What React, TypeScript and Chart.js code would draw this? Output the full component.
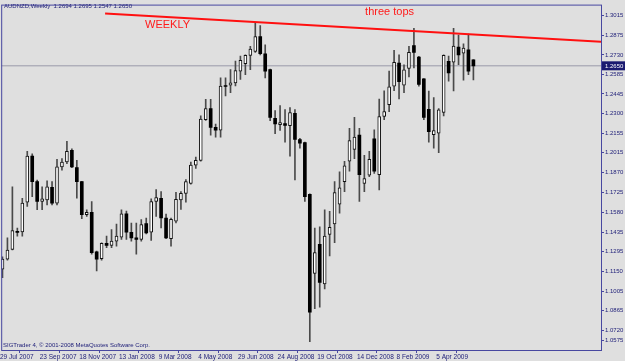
import React, { useEffect, useRef } from 'react';
import { Chart, registerables } from 'chart.js';

Chart.register(...registerables);

const symbolTitle = 'AUDNZD,Weekly';
const copyright = 'SIGTrader 4, \u00a9 2001-2008 MetaQuotes Software Corp.';
const noteLeft = 'WEEKLY';
const noteRight = 'three tops';

const opens = [
  1.1166, 1.1238, 1.1310, 1.1442, 1.1437, 1.1654, 1.1991, 1.1804, 1.1659, 1.1671,
  1.1762, 1.1647, 1.1912, 1.1948, 1.2033, 1.1907, 1.1804, 1.1563, 1.1580, 1.1291,
  1.1242, 1.1354, 1.1339, 1.1370, 1.1399, 1.1570, 1.1435, 1.1394, 1.1382, 1.1498,
  1.1435, 1.1659, 1.1683, 1.1539, 1.1387, 1.1515, 1.1671, 1.1719, 1.1791, 1.1924,
  1.1960, 1.2257, 1.2338, 1.2201, 1.2181, 1.2502, 1.2509, 1.2526, 1.2611, 1.2665,
  1.2726, 1.2755, 1.2863, 1.2738, 1.2622, 1.2266, 1.2220, 1.2228, 1.2213, 1.2304,
  1.2112, 1.2089, 1.1712, 1.1134, 1.1346, 1.1057, 1.1419, 1.1495, 1.1640, 1.1804,
  1.1953, 1.2040, 1.2145, 1.1791, 1.1852, 1.2116, 1.1856, 1.2280, 1.2367, 1.2502,
  1.2670, 1.2508, 1.2631, 1.2798, 1.2714, 1.2555, 1.2333, 1.2148, 1.2158, 1.2309,
  1.2683, 1.2676, 1.2786, 1.2743, 1.2767, 1.2694,
];
const highs = [
  1.1255, 1.1394, 1.1767, 1.1466, 1.1683, 1.2025, 1.2008, 1.1816, 1.1767, 1.1811,
  1.1804, 1.1968, 1.1972, 1.2098, 1.2044, 1.1960, 1.1806, 1.1599, 1.1659, 1.1298,
  1.1358, 1.1406, 1.1455, 1.1495, 1.1599, 1.1590, 1.1502, 1.1502, 1.1527, 1.1539,
  1.1679, 1.1746, 1.1731, 1.1567, 1.1539, 1.1726, 1.1731, 1.1820, 1.1948, 1.1984,
  1.2285, 1.2405, 1.2405, 1.2225, 1.2562, 1.2562, 1.2622, 1.2685, 1.2721, 1.2730,
  1.2793, 1.2967, 1.2943, 1.2803, 1.2626, 1.2324, 1.2360, 1.2331, 1.2345, 1.2331,
  1.2121, 1.2093, 1.1715, 1.1466, 1.1474, 1.1599, 1.1587, 1.1804, 1.1876, 1.1953,
  1.2194, 1.2273, 1.2194, 1.1996, 1.2025, 1.2183, 1.2407, 1.2468, 1.2611, 1.2764,
  1.2730, 1.2658, 1.2793, 1.2923, 1.2719, 1.2557, 1.2466, 1.2418, 1.2338, 1.2730,
  1.2721, 1.2923, 1.2875, 1.2810, 1.2882, 1.2695,
];
const lows = [
  1.1103, 1.1231, 1.1305, 1.1406, 1.1406, 1.1623, 1.1695, 1.1599, 1.1599, 1.1635,
  1.1635, 1.1635, 1.1888, 1.1936, 1.1907, 1.1683, 1.1534, 1.1551, 1.1274, 1.1153,
  1.1231, 1.1322, 1.1322, 1.1334, 1.1382, 1.1382, 1.1370, 1.1274, 1.1370, 1.1423,
  1.1375, 1.1551, 1.1466, 1.1387, 1.1334, 1.1502, 1.1601, 1.1654, 1.1785, 1.1900,
  1.1953, 1.2252, 1.2143, 1.2129, 1.2129, 1.2430, 1.2454, 1.2504, 1.2550, 1.2586,
  1.2622, 1.2748, 1.2730, 1.2562, 1.2249, 1.2154, 1.2179, 1.2093, 1.1991, 1.1816,
  1.2049, 1.1659, 1.0635, 1.0877, 1.0888, 1.1021, 1.1262, 1.1358, 1.1575, 1.1731,
  1.1881, 1.1972, 1.1659, 1.1731, 1.1840, 1.1864, 1.1744, 1.2257, 1.2316, 1.2468,
  1.2408, 1.2454, 1.2569, 1.2634, 1.2502, 1.2257, 1.2093, 1.2049, 1.2015, 1.2285,
  1.2538, 1.2466, 1.2658, 1.2546, 1.2586, 1.2547,
];
const closes = [
  1.1238, 1.1305, 1.1447, 1.1433, 1.1647, 1.1991, 1.1804, 1.1659, 1.1679, 1.1767,
  1.1647, 1.1912, 1.1948, 1.2025, 1.1912, 1.1804, 1.1563, 1.1580, 1.1286, 1.1238,
  1.1354, 1.1339, 1.1370, 1.1406, 1.1570, 1.1435, 1.1394, 1.1382, 1.1491, 1.1430,
  1.1659, 1.1688, 1.1539, 1.1394, 1.1529, 1.1676, 1.1719, 1.1804, 1.1926, 1.1960,
  1.2261, 1.2338, 1.2201, 1.2181, 1.2502, 1.2499, 1.2526, 1.2615, 1.2690, 1.2726,
  1.2772, 1.2863, 1.2738, 1.2611, 1.2273, 1.2225, 1.2235, 1.2215, 1.2309, 1.2112,
  1.2085, 1.1695, 1.0852, 1.1286, 1.1069, 1.1406, 1.1471, 1.1724, 1.1760, 1.1919,
  1.2105, 1.2129, 1.1856, 1.1827, 1.1968, 1.1881, 1.2280, 1.2316, 1.2497, 1.2676,
  1.2535, 1.2620, 1.2748, 1.2748, 1.2514, 1.2273, 1.2170, 1.2177, 1.2329, 1.2726,
  1.2598, 1.2795, 1.2730, 1.2779, 1.2611, 1.2650,
];

const xTickLabels = [
  '29 Jul 2007', '23 Sep 2007', '18 Nov 2007', '13 Jan 2008', '9 Mar 2008', '4 May 2008',
  '29 Jun 2008', '24 Aug 2008', '19 Oct 2008', '14 Dec 2008', '8 Feb 2009', '5 Apr 2009',
];
const yTickValues = [
  1.3015, 1.2875, 1.2730, 1.2585, 1.2445, 1.2300, 1.2155, 1.2015, 1.1870,
  1.1725, 1.1580, 1.1435, 1.1295, 1.1150, 1.1005, 1.0865, 1.0720, 1.0575,
];
const trendX = [20.7, 120.74];
const trendY = [1.3032, 1.2826];

const NAVY = '#22227a';
const FRAME = '#4848a0';
const BG = '#dfdfdf';
const FONT = "'Liberation Sans', Arial, sans-serif";

export default function App() {
  const ref = useRef<HTMLCanvasElement>(null);

  useEffect(() => {
    if (!ref.current) return;
    const n = opens.length;
    const last = n - 1;
    const idx = opens.map((_, i) => i);
    const wicks = idx.map((i) => ({ x: i, y: [lows[i], highs[i]] }));
    const up = idx
      .filter((i) => closes[i] >= opens[i])
      .map((i) => ({ x: i, y: [opens[i], closes[i]] }));
    const down = idx
      .filter((i) => closes[i] < opens[i])
      .map((i) => ({ x: i, y: [closes[i], opens[i]] }));
    const xMin = -0.26;
    const xMax = 120.74;
    const yMin = 1.0575;
    const yMax = 1.3097;
    const lastClose = closes[last];

    const overlay = {
      id: 'mt4overlay',
      afterDraw(chart: any) {
        const { ctx, chartArea: a, scales } = chart;
        ctx.save();
        ctx.strokeStyle = FRAME;
        ctx.lineWidth = 1;
        ctx.strokeRect(a.left + 0.5, a.top + 0.5, a.right - a.left, a.bottom - a.top);

        ctx.textBaseline = 'middle';
        ctx.textAlign = 'left';
        ctx.fillStyle = NAVY;
        ctx.font = `6px ${FONT}`;
        const head = `${symbolTitle}  ${opens[last].toFixed(4)} ${highs[last].toFixed(4)} ${lows[last].toFixed(4)} ${closes[last].toFixed(4)}`;
        ctx.fillText(head, 4, 6.5);
        ctx.fillText(copyright, 3, 345);

        ctx.fillStyle = '#ff1a1a';
        ctx.font = `11px ${FONT}`;
        ctx.fillText(noteLeft, 145, 24.5);
        ctx.textAlign = 'right';
        ctx.fillText(noteRight, 414, 11.5);

        const py = scales.y.getPixelForValue(lastClose);
        ctx.fillStyle = '#1a1a70';
        ctx.fillRect(a.right + 1, py - 4.5, 23, 9);
        ctx.fillStyle = '#ffffff';
        ctx.textAlign = 'left';
        ctx.font = `6px ${FONT}`;
        ctx.fillText(lastClose.toFixed(4), a.right + 4, py + 0.5);
        ctx.restore();
      },
    };

    const chart = new Chart(ref.current, {
      type: 'bar',
      data: {
        datasets: [
          {
            type: 'line',
            data: [
              { x: xMin, y: lastClose },
              { x: xMax, y: lastClose },
            ],
            borderColor: '#9a9aaa',
            borderWidth: 1,
            pointRadius: 0,
            order: 9,
          } as any,
          {
            data: wicks as any,
            backgroundColor: '#4a4a4a',
            borderWidth: 0,
            barThickness: 1,
            grouped: false,
            minBarLength: 1,
            order: 6,
          },
          {
            data: up as any,
            backgroundColor: '#ffffff',
            borderColor: '#111111',
            borderWidth: 1,
            borderSkipped: false,
            barThickness: 3,
            grouped: false,
            minBarLength: 2,
            order: 4,
          },
          {
            data: down as any,
            backgroundColor: '#000000',
            borderColor: '#000000',
            borderWidth: 0,
            borderSkipped: false,
            barThickness: 3,
            grouped: false,
            minBarLength: 1,
            order: 3,
          },
          {
            type: 'line',
            data: trendX.map((x, i) => ({ x, y: trendY[i] })),
            borderColor: '#ff1010',
            borderWidth: 2,
            pointRadius: 0,
            order: 1,
          } as any,
        ],
      },
      options: {
        responsive: false,
        devicePixelRatio: 1,
        animation: false,
        events: [],
        layout: { padding: { left: 1, top: 1, right: 0, bottom: 0 } },
        plugins: { legend: { display: false }, tooltip: { enabled: false }, title: { display: false } },
        scales: {
          x: {
            type: 'linear',
            min: xMin,
            max: xMax,
            offset: false,
            afterBuildTicks: (scale: any) => {
              scale.ticks = xTickLabels.map((_, j) => ({ value: j * 8 - 0.5 }));
            },
            afterFit: (scale: any) => {
              scale.height = 11;
            },
            ticks: {
              autoSkip: false,
              maxRotation: 0,
              minRotation: 0,
              align: 'start',
              padding: 0,
              color: NAVY,
              font: { family: FONT, size: 6.5 },
              callback: (_v: any, i: number) => xTickLabels[i],
            },
            grid: { drawOnChartArea: false, drawTicks: true, tickLength: 3, color: FRAME },
            border: { display: false },
          },
          y: {
            type: 'linear',
            position: 'right',
            min: yMin,
            max: yMax,
            afterBuildTicks: (scale: any) => {
              // the lowest label is lifted inside the frame, as the terminal does
              const lift = ((yMax - yMin) / 349) * 10;
              scale.ticks = yTickValues.map((v) => ({ value: v <= yMin ? v + lift : v }));
            },
            afterFit: (scale: any) => {
              scale.width = 24;
            },
            ticks: {
              padding: 1,
              color: NAVY,
              font: { family: FONT, size: 6 },
              callback: (_v: any, i: number) => yTickValues[i].toFixed(4),
            },
            grid: { drawOnChartArea: false, drawTicks: true, tickLength: 3, color: FRAME },
            border: { display: false },
          },
        },
      },
      plugins: [overlay],
    } as any);

    return () => chart.destroy();
  }, []);

  return (
    <div style={{ position: 'absolute', left: 0, top: 0, width: 625, height: 361, background: BG }}>
      <canvas ref={ref} width={625} height={361} style={{ display: 'block', width: 625, height: 361 }} />
    </div>
  );
}
